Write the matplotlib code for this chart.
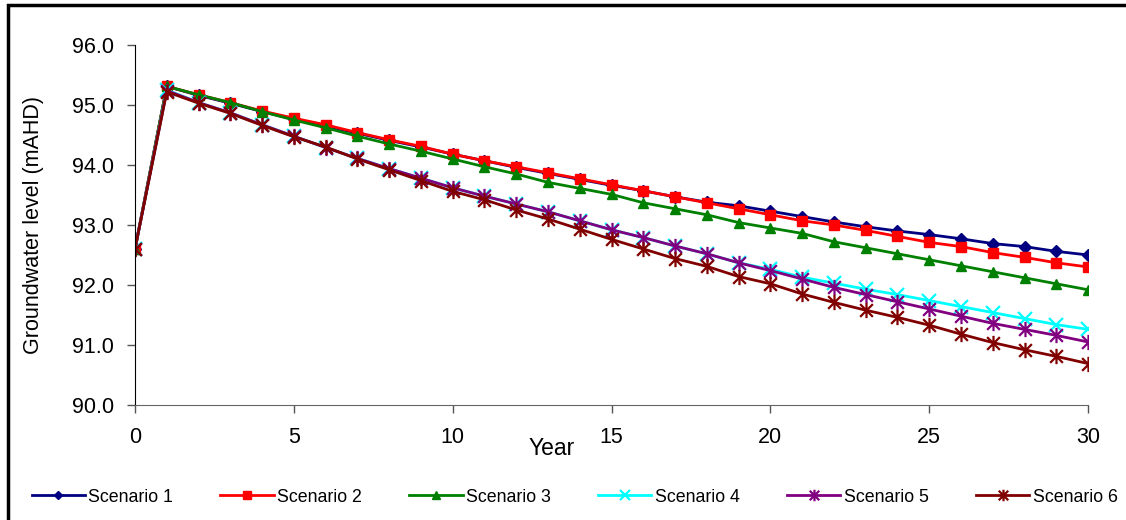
import numpy as np
import matplotlib.pyplot as plt
from matplotlib.path import Path
from matplotlib.patches import Rectangle

plt.rcParams['font.family'] = ['Liberation Sans', 'DejaVu Sans']

years = list(range(0, 31))

scenario1 = [92.60, 95.31, 95.16, 95.03, 94.89, 94.76, 94.65, 94.53, 94.41, 94.30,
             94.18, 94.07, 93.96, 93.86, 93.76, 93.66, 93.57, 93.47, 93.38, 93.32,
             93.23, 93.14, 93.05, 92.97, 92.90, 92.84, 92.77, 92.69, 92.64, 92.56, 92.50]
scenario2 = [92.60, 95.31, 95.17, 95.04, 94.90, 94.78, 94.67, 94.54, 94.42, 94.31,
             94.18, 94.07, 93.97, 93.87, 93.77, 93.67, 93.57, 93.47, 93.37, 93.27,
             93.17, 93.07, 93.00, 92.91, 92.81, 92.71, 92.64, 92.54, 92.46, 92.37, 92.30]
scenario3 = [92.60, 95.31, 95.17, 95.04, 94.89, 94.75, 94.62, 94.48, 94.35, 94.23,
             94.10, 93.97, 93.85, 93.71, 93.61, 93.51, 93.37, 93.27, 93.17, 93.04,
             92.95, 92.86, 92.72, 92.62, 92.52, 92.42, 92.32, 92.22, 92.12, 92.02, 91.92]
scenario4 = [92.60, 95.25, 95.04, 94.87, 94.67, 94.48, 94.29, 94.11, 93.94, 93.78,
             93.62, 93.48, 93.35, 93.22, 93.07, 92.92, 92.79, 92.65, 92.52, 92.37,
             92.26, 92.13, 92.03, 91.93, 91.84, 91.74, 91.64, 91.54, 91.44, 91.34, 91.26]
scenario5 = [92.60, 95.24, 95.04, 94.87, 94.67, 94.48, 94.29, 94.11, 93.94, 93.78,
             93.62, 93.48, 93.35, 93.22, 93.07, 92.92, 92.79, 92.65, 92.52, 92.37,
             92.24, 92.10, 91.96, 91.84, 91.72, 91.60, 91.48, 91.36, 91.26, 91.16, 91.05]
scenario6 = [92.60, 95.22, 95.03, 94.86, 94.66, 94.47, 94.30, 94.10, 93.92, 93.74,
             93.56, 93.42, 93.25, 93.10, 92.93, 92.76, 92.60, 92.44, 92.31, 92.14,
             92.02, 91.85, 91.71, 91.58, 91.46, 91.33, 91.18, 91.04, 90.92, 90.81, 90.69]

labels = ['Scenario 1', 'Scenario 2', 'Scenario 3', 'Scenario 4', 'Scenario 5', 'Scenario 6']
colors = ['#000080', '#FF0000', '#008000', '#00FFFF', '#800080', '#800000']

# Excel style star: an x with a vertical bar through it
star = Path([(-1, -1), (1, 1), (-1, 1), (1, -1), (0, -1.2), (0, 1.2)],
            [Path.MOVETO, Path.LINETO, Path.MOVETO, Path.LINETO, Path.MOVETO, Path.LINETO])
markers = ['D', 's', '^', 'x', star, star]
sizes = [6, 7, 7, 10, 11, 11]

fig = plt.figure(figsize=(11.26, 5.2), dpi=100)
ax = fig.add_axes([0.1199, 0.2212, 0.8464, 0.6923])

series = [scenario1, scenario2, scenario3, scenario4, scenario5, scenario6]
for s, lab, c, m, ms in zip(series, labels, colors, markers, sizes):
    thin = not (m == 'x' or m is star)
    ax.plot(years, s, color=c, marker=m, markersize=ms, linewidth=2,
            markeredgewidth=1 if thin else 1.6,
            markerfacecolor=c, markeredgecolor=c, label=lab)

ax.set_xlim(0, 30)
ax.set_ylim(90, 96)
ax.set_xticks(range(0, 31, 5))
ax.set_yticks(np.arange(90, 96.1, 1))
ax.yaxis.set_major_formatter(plt.FormatStrFormatter('%.1f'))
ax.tick_params(direction='out', length=6, width=1, colors='#555555', labelcolor='black',
               labelsize=15.5, pad=9)
ax.tick_params(axis='x', pad=10)
for side in ('top', 'right'):
    ax.spines[side].set_visible(False)
ax.spines['left'].set_color('black')
ax.spines['bottom'].set_color('#666666')

ax.set_ylabel('Groundwater level (mAHD)', fontsize=15.5, labelpad=20)
fig.text(0.49, 0.138, 'Year', fontsize=16.5, ha='center', va='center')

fig.legend(loc='center left', bbox_to_anchor=(0.028, 0.044), ncol=6, frameon=False,
           fontsize=12.8, handlelength=3.0, columnspacing=2.65, handletextpad=0.2,
           borderaxespad=0, borderpad=0, markerscale=0.75)

fig.patches.append(Rectangle((0.007, -0.2), 1.1, 1.19, transform=fig.transFigure,
                             fill=False, edgecolor='black', linewidth=2.5))

fig.savefig('out.png', dpi=100)
